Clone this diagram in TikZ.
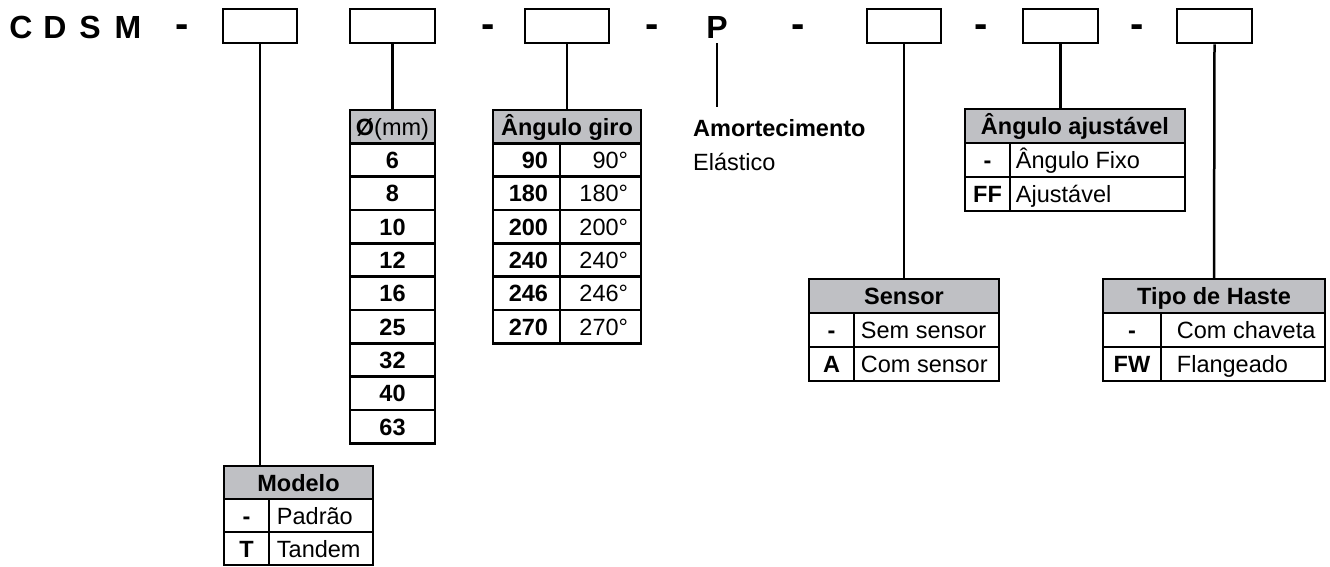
\documentclass[tikz,border=0pt]{standalone}
\usepackage{fontspec}
\setmainfont{Liberation Sans}
\definecolor{hdr}{RGB}{191,192,196}
\begin{document}
\begin{tikzpicture}[x=1pt,y=-1pt,
  every node/.style={font=\fontsize{23.5}{28}\selectfont},
  cell/.style={draw, line width=2.5pt, inner sep=0pt, text height=17pt, text depth=0pt, minimum height=34pt},
  head/.style={cell, fill=hdr, font=\fontsize{23.5}{28}\selectfont\bfseries},
  codebox/.style={draw, line width=2.5pt, minimum height=34pt, inner sep=0pt},
  big/.style={font=\fontsize{32}{36}\selectfont\bfseries, inner sep=0pt, anchor=base},
  hy/.style={font=\fontsize{40}{44}\selectfont\bfseries, inner sep=0pt, anchor=base},
  conn/.style={line width=2.5pt},
  txt/.style={inner sep=0pt, anchor=base west},
  txtr/.style={inner sep=0pt, anchor=base east}]
\useasboundingbox (0,0) rectangle (1330,566);

% top code line
\node[big] (lc) at (21,38) {C};
\node[big] (ld) at (55,38) {D};
\node[big] (ls) at (90,38) {S};
\node[big] (lm) at (128,38) {M};
\node[hy] (h1) at (182,37) {-};
\node[codebox, minimum width=74pt] (b1) at (260,26) {};
\node[codebox, minimum width=85pt] (b2) at (392.5,26) {};
\node[hy] (h2) at (488,37) {-};
\node[codebox, minimum width=84pt] (b3) at (567,26) {};
\node[hy] (h3) at (652.5,37) {-};
\node[big] (P) at (717,38) {P};
\node[hy] (h4) at (798,37) {-};
\node[codebox, minimum width=74pt] (b4) at (904,26) {};
\node[hy] (h5) at (981,37) {-};
\node[codebox, minimum width=75pt] (b5) at (1060.5,26) {};
\node[hy] (h6) at (1137.5,37) {-};
\node[codebox, minimum width=75pt] (b6) at (1214.5,26) {};

% Diameter table
\node[head, minimum width=85pt, minimum height=33.33pt] (dh) at (392.5,126.67) {Ø\normalfont(mm)};
\foreach \v [count=\i] in {6,8,10,12,16,25,32,40,63}
  \node[cell, minimum width=85pt, minimum height=33.33pt, font=\fontsize{23.5}{28}\selectfont\bfseries] (d\i) at (392.5,{126.67+33.33*\i}) {\v};

% Angle table
\node[head, minimum width=148pt, minimum height=33.33pt] (gh) at (567,126.67) {Ângulo giro};
\foreach \v [count=\i] in {90,180,200,240,246,270}{
  \node[cell, minimum width=67pt, minimum height=33.33pt] (ga\i) at (526.5,{126.67+33.33*\i}) {};
  \node[cell, minimum width=81pt, minimum height=33.33pt] (gb\i) at (600.5,{126.67+33.33*\i}) {};
  \node[txtr, font=\fontsize{23.5}{28}\selectfont\bfseries] (gta\i) at ([xshift=-13pt,yshift=-8.5pt]ga\i.east) {\v};
  \node[txtr] (gtb\i) at ([xshift=-14pt,yshift=-8.5pt]gb\i.east) {\v°};
}

% Amortecimento
\coordinate (pend) at (717,107);
\node[txt, font=\fontsize{23.5}{28}\selectfont\bfseries] (am) at (693,136) {Amortecimento};
\node[txt] (el) at (693,170) {Elástico};

% Angulo ajustavel
\node[head, minimum width=220pt] (ah) at (1075,126) {Ângulo ajustável};
\node[cell, minimum width=45pt, font=\fontsize{23.5}{28}\selectfont\bfseries] (aa1) at (987.5,160) {-};
\node[cell, minimum width=175pt] (ab1) at (1097.5,160) {};
\node[cell, minimum width=45pt, font=\fontsize{23.5}{28}\selectfont\bfseries] (aa2) at (987.5,194) {FF};
\node[cell, minimum width=175pt] (ab2) at (1097.5,194) {};
\node[txt] (at1) at ([xshift=7pt,yshift=-8.5pt]ab1.west) {Ângulo Fixo};
\node[txt] (at2) at ([xshift=7pt,yshift=-8.5pt]ab2.west) {Ajustável};

% Sensor
\node[head, minimum width=190pt] (sh) at (904,296) {Sensor};
\node[cell, minimum width=45pt, font=\fontsize{23.5}{28}\selectfont\bfseries] (sa1) at (831.5,330) {-};
\node[cell, minimum width=145pt] (sb1) at (926.5,330) {};
\node[cell, minimum width=45pt, font=\fontsize{23.5}{28}\selectfont\bfseries] (sa2) at (831.5,364) {A};
\node[cell, minimum width=145pt] (sb2) at (926.5,364) {};
\node[txt] (st1) at ([xshift=8pt,yshift=-8.5pt]sb1.west) {Sem sensor};
\node[txt] (st2) at ([xshift=8pt,yshift=-8.5pt]sb2.west) {Com sensor};

% Tipo de Haste
\node[head, minimum width=222pt] (th) at (1214,296) {Tipo de Haste};
\node[cell, minimum width=58pt, font=\fontsize{23.5}{28}\selectfont\bfseries] (ta1) at (1132,330) {-};
\node[cell, minimum width=164pt] (tb1) at (1243,330) {};
\node[cell, minimum width=58pt, font=\fontsize{23.5}{28}\selectfont\bfseries] (ta2) at (1132,364) {FW};
\node[cell, minimum width=164pt] (tb2) at (1243,364) {};
\node[txt] (tt1) at ([xshift=17pt,yshift=-8.5pt]tb1.west) {Com chaveta};
\node[txt] (tt2) at ([xshift=17pt,yshift=-8.5pt]tb2.west) {Flangeado};

% Modelo
\node[head, minimum width=149pt, minimum height=33pt] (mh) at (298.5,482.5) {Modelo};
\node[cell, minimum width=45pt, minimum height=33pt, font=\fontsize{23.5}{28}\selectfont\bfseries] (ma1) at (246.5,515.5) {-};
\node[cell, minimum width=104pt, minimum height=33pt] (mb1) at (321,515.5) {};
\node[cell, minimum width=45pt, minimum height=33pt, font=\fontsize{23.5}{28}\selectfont\bfseries] (ma2) at (246.5,548.5) {T};
\node[cell, minimum width=104pt, minimum height=33pt] (mb2) at (321,548.5) {};
\node[txt] (mt1) at ([xshift=9pt,yshift=-8.5pt]mb1.west) {Padrão};
\node[txt] (mt2) at ([xshift=9pt,yshift=-8.5pt]mb2.west) {Tandem};

% connectors
\draw[conn] (b1.south) -- (b1.south |- mh.north);
\draw[conn] (b2.south) -- (dh.north);
\draw[conn] (b3.south) -- (gh.north);
\draw[conn] ([yshift=-5pt]P.south) -- (pend);
\draw[conn] (b4.south) -- (sh.north);
\draw[conn] (b5.south) -- (b5.south |- ah.north);
\draw[conn] (b6.south) -- (th.north);
\end{tikzpicture}
\end{document}
